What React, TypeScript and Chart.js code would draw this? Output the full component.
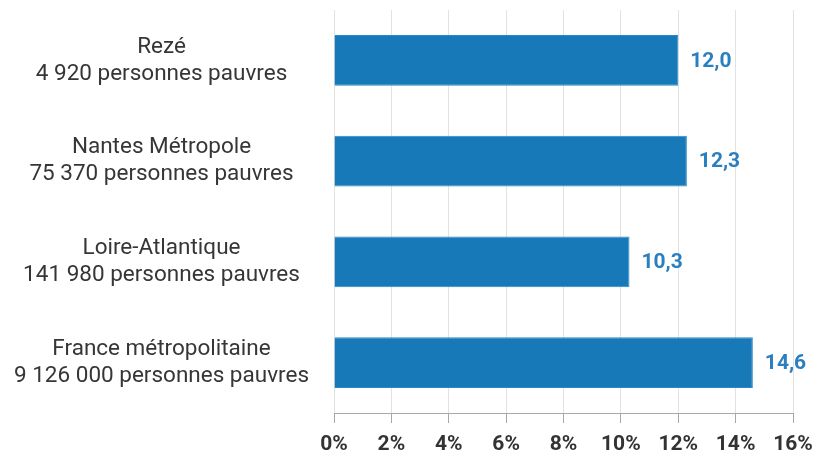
import React, { useEffect, useRef } from "react";
import { Chart, registerables } from "chart.js";

Chart.register(...registerables);

const categories: string[][] = [
  ["Rezé", "4 920 personnes pauvres"],
  ["Nantes Métropole", "75 370 personnes pauvres"],
  ["Loire-Atlantique", "141 980 personnes pauvres"],
  ["France métropolitaine", "9 126 000 personnes pauvres"],
];
const values: number[] = [12.0, 12.3, 10.3, 14.6];
const xTicks: number[] = [0, 2, 4, 6, 8, 10, 12, 14, 16];

const BAR = "#1879b9";
const LABEL = "#2a7fc0";

const valueLabels = {
  id: "valueLabels",
  afterDatasetsDraw(chart: any) {
    const ctx = chart.ctx;
    const meta = chart.getDatasetMeta(0);
    ctx.save();
    ctx.font = "bold 21px Roboto";
    ctx.fillStyle = LABEL;
    ctx.textAlign = "left";
    ctx.textBaseline = "middle";
    meta.data.forEach((el: any, i: number) => {
      const txt = values[i].toFixed(1).replace(".", ",");
      ctx.fillText(txt, el.x + 12, el.y + 1);
    });
    ctx.restore();
  },
};

export default function App() {
  const ref = useRef<HTMLCanvasElement | null>(null);
  useEffect(() => {
    if (!ref.current) return;
    const chart = new Chart(ref.current, {
      type: "bar",
      data: {
        labels: categories,
        datasets: [
          {
            data: values,
            backgroundColor: BAR,
            borderColor: "#2a88c6",
            borderWidth: 1,
            barPercentage: 0.505,
            categoryPercentage: 1,
          },
        ],
      },
      options: {
        indexAxis: "y",
        responsive: false,
        animation: false,
        layout: { padding: { top: 10, right: 0, left: 0, bottom: 0 } },
        plugins: { legend: { display: false }, tooltip: { enabled: false } },
        scales: {
          x: {
            min: 0,
            max: 16,
            afterBuildTicks(scale: any) {
              scale.ticks = xTicks.map((v) => ({ value: v }));
            },
            afterFit(scale: any) {
              scale.height = 41;
              scale.paddingRight = 22;
              scale.paddingLeft = 0;
            },
            grid: {
              color: "#e2e2e2",
              tickColor: "#a8a8a8",
              tickLength: 10,
              drawTicks: true,
            },
            border: { display: true, color: "#a8a8a8", width: 1 },
            ticks: {
              padding: 9,
              color: "#333333",
              font: { family: "Roboto", size: 21, weight: "bold" },
              callback: (v: any) => `${v}%`,
            },
          },
          y: {
            afterFit(scale: any) {
              scale.width = 334;
              scale.paddingTop = 0;
              scale.paddingBottom = 0;
            },
            grid: { display: false, drawTicks: false },
            border: { display: false },
            ticks: {
              crossAlign: "center",
              padding: 25,
              color: "#363636",
              font: { family: "Roboto", size: 22.5, lineHeight: 1.2 },
            },
          },
        },
      },
      plugins: [valueLabels],
    });
    return () => chart.destroy();
  }, []);
  return (
    <div style={{ position: "absolute", left: 0, top: 0, width: 815, height: 454, background: "#fff" }}>
      <canvas ref={ref} width={815} height={454} style={{ display: "block" }} />
    </div>
  );
}
